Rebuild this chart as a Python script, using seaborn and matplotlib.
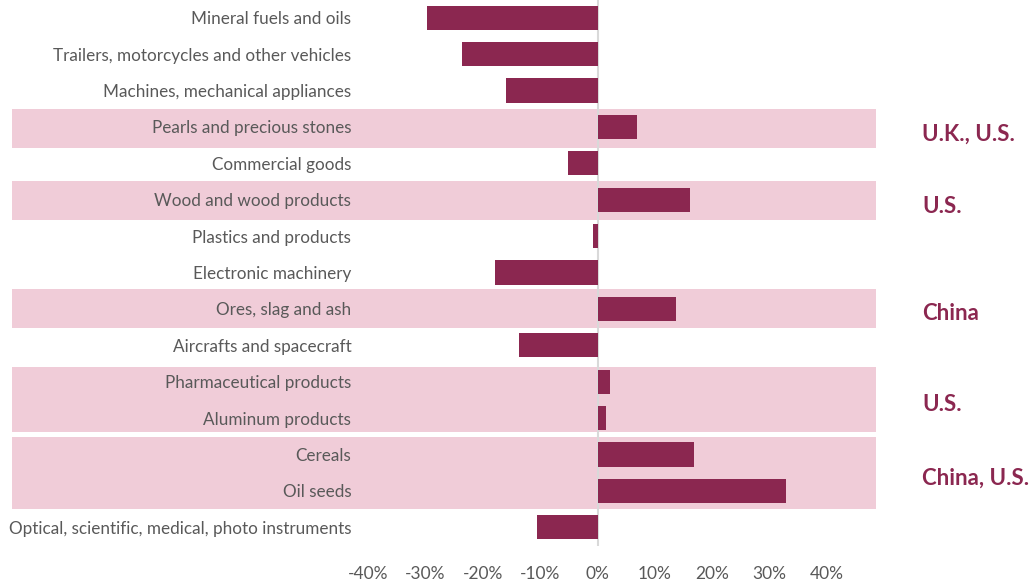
import matplotlib
matplotlib.use("Agg")
import matplotlib.pyplot as plt
import matplotlib.transforms as mtransforms
from matplotlib.patches import Rectangle
import seaborn as sns
import pandas as pd

categories = [
    "Mineral fuels and oils",
    "Trailers, motorcycles and other vehicles",
    "Machines, mechanical appliances",
    "Pearls and precious stones",
    "Commercial goods",
    "Wood and wood products",
    "Plastics and products",
    "Electronic machinery",
    "Ores, slag and ash",
    "Aircrafts and spacecraft",
    "Pharmaceutical products",
    "Aluminum products",
    "Cereals",
    "Oil seeds",
    "Optical, scientific, medical, photo instruments",
]
values = [-29.7, -23.7, -15.9, 6.8, -5.2, 16.1, -0.7, -17.8, 13.6, -13.6, 2.1, 1.4, 16.9, 32.8, -10.5]

# highlighted groups: (first row, last row, label)
group_first = [3, 5, 8, 10, 12]
group_last = [3, 5, 8, 11, 13]
group_labels = ["U.K., U.S.", "U.S.", "China", "U.S.", "China, U.S."]

xticks = [-40, -30, -20, -10, 0, 10, 20, 30, 40]

# band padding (row units) above first / below last row of each group
pad_top = [0.49, 0.51, 0.55, 0.40, 0.47]
pad_bot = [0.59, 0.56, 0.53, 0.37, 0.49]

BAR = "#8B2750"
BAND = "#F0CCD8"
GRAY = "#595959"

sns.set_style("white")
plt.rcParams["font.family"] = ["Lato", "DejaVu Sans"]

df = pd.DataFrame({"category": categories, "value": values})

fig = plt.figure(figsize=(10.33, 5.84), dpi=100)
ax = fig.add_axes([368 / 1033, 1 - 545.5 / 584, (827 - 368) / 1033, 546 / 584])
ax.set_facecolor("none")

sns.barplot(data=df, x="value", y="category", color=BAR, orient="h",
            width=0.66, saturation=1, linewidth=0, ax=ax, zorder=3)

ax.set_xlim(-40, 40)
ax.set_ylim(len(categories) - 0.5, -0.5)
ax.set_xticks(xticks)
ax.set_xticklabels([f"{t}%" for t in xticks])
ax.set_xlabel("")
ax.set_ylabel("")
for s in ax.spines.values():
    s.set_visible(False)
ax.tick_params(axis="x", length=0, pad=15, labelsize=12.5, labelcolor=GRAY)
ax.tick_params(axis="y", length=0, pad=12, labelsize=12.35, labelcolor=GRAY)
ax.axvline(0, color="#D9D9D9", lw=1.5, zorder=2)

trans = mtransforms.blended_transform_factory(fig.transFigure, ax.transData)
x0 = 12 / 1033
x1 = 876 / 1033
for a, b, lab, pt, pb in zip(group_first, group_last, group_labels, pad_top, pad_bot):
    top = a - pt
    bot = b + pb
    r = Rectangle((x0, top), x1 - x0, bot - top, transform=trans,
                  facecolor=BAND, edgecolor="none", zorder=0, clip_on=False)
    ax.add_artist(r)
    ax.text(922 / 1033, (top + bot) / 2 + 0.15, lab, transform=trans,
            ha="left", va="center", fontsize=16, fontweight="bold",
            color=BAR, clip_on=False)

fig.savefig("out.png", dpi=100)
